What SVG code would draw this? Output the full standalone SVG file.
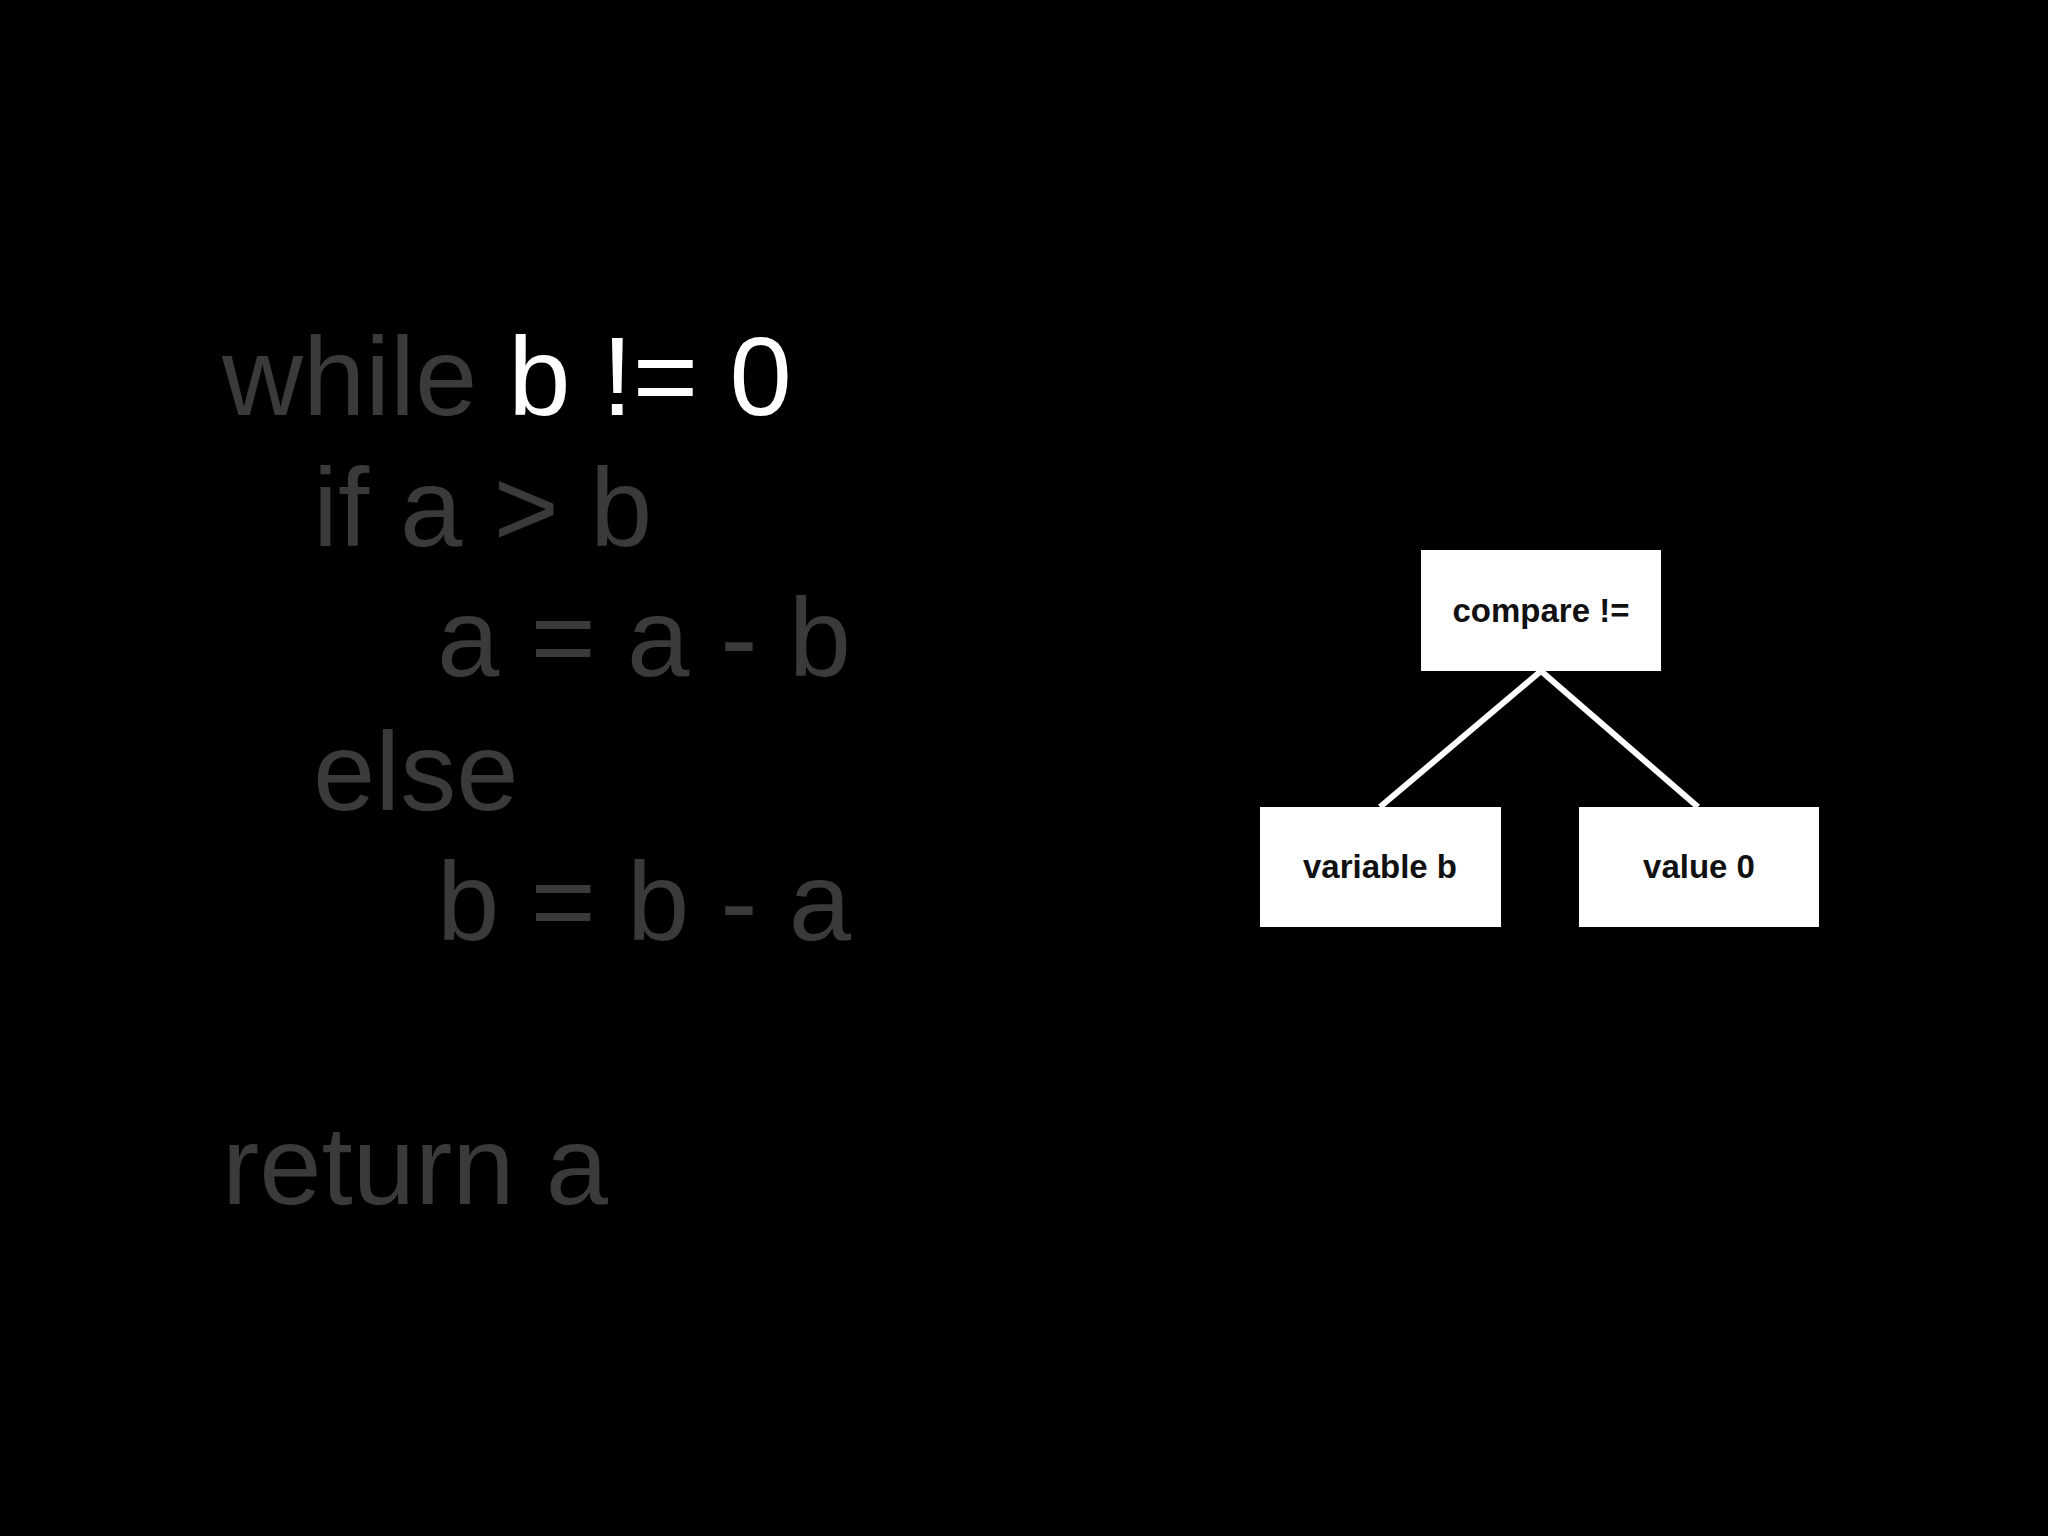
<svg xmlns="http://www.w3.org/2000/svg" width="2048" height="1536" viewBox="0 0 2048 1536">
<style>
.code{font-family:"Liberation Sans",Arial,sans-serif;font-size:112px;fill:#3a3a3a}
.hl{fill:#ffffff}
.box{fill:#ffffff}
.lbl{font-family:"Liberation Sans",Arial,sans-serif;font-weight:bold;font-size:33px;fill:#111;text-anchor:middle}
.edge{stroke:#ffffff;stroke-width:6;fill:none}
</style>
<rect width="2048" height="1536" fill="#000"/>
<g id="code">
<text class="code" x="222" y="415">while <tspan class="hl">b != 0</tspan></text>
<text class="code" x="313" y="546">if a &gt; b</text>
<text class="code" x="437" y="676">a = a - b</text>
<text class="code" x="313" y="810">else</text>
<text class="code" x="437" y="940">b = b - a</text>
<text class="code" x="222" y="1204">return a</text>
</g>
<g id="connectors">
<line class="edge" x1="1541" y1="671" x2="1380" y2="807"/>
<line class="edge" x1="1541" y1="671" x2="1698" y2="807"/>
</g>
<g id="compare"><rect class="box" x="1421" y="550" width="240" height="121"/><text class="lbl" x="1541" y="622">compare !=</text></g>
<g id="variable_b"><rect class="box" x="1260" y="807" width="241" height="120"/><text class="lbl" x="1380" y="878">variable b</text></g>
<g id="value_0"><rect class="box" x="1579" y="807" width="240" height="120"/><text class="lbl" x="1699" y="878">value 0</text></g>
</svg>
